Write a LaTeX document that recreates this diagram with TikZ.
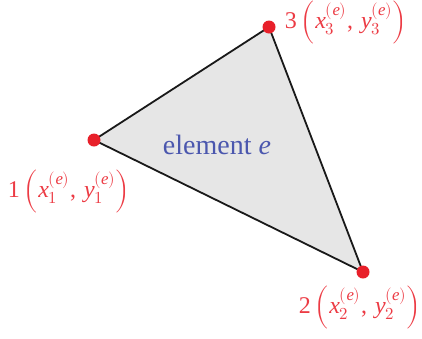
\documentclass[tikz,border=0pt]{standalone}
\usepackage{fontspec}
\setmainfont{Liberation Serif}
\usepackage{unicode-math}
\setmathfont{Latin Modern Math}
\setmathfont{Liberation Serif Italic}[range=it]
\setmathfont{Liberation Serif}[range={"2C,"30-"39}]
\definecolor{ptred}{HTML}{E8202A}
\definecolor{lblred}{HTML}{EC3B44}
\definecolor{elblue}{HTML}{4B57AE}
\definecolor{elgray}{HTML}{E6E6E6}
\tikzset{
  vdot/.style={circle,fill=ptred,inner sep=0pt,minimum size=13pt},
  vlabel/.style={text=lblred,inner sep=0pt,font=\fontsize{24}{27}\selectfont},
  edgeline/.style={line width=1.8pt,black!90}
}
\newcommand{\vcoord}[2]{#1\,$\left(x_{#1}^{(#2)},\,y_{#1}^{(#2)}\right)$}
\begin{document}
\begin{tikzpicture}[x=1pt,y=-1pt]
\useasboundingbox (0,0) rectangle (422,338);
\coordinate (c1) at (94,140);
\coordinate (c2) at (363,272);
\coordinate (c3) at (269,27);
\filldraw[edgeline,fill=elgray,line join=round] (c1) -- (c2) -- (c3) -- cycle;
\node[vdot] (v1) at (c1) {};
\node[vdot] (v2) at (c2) {};
\node[vdot] (v3) at (c3) {};
\node[text=elblue,inner sep=0pt,font=\fontsize{28}{30}\selectfont] (el) at (217,145) {element $e$};
\node[vlabel] (l1) at (69,191) {\vcoord{1}{e}};
\node[vlabel] (l2) at (360,307) {\vcoord{2}{e}};
\node[vlabel] (l3) at (346,22) {\vcoord{3}{e}};
\end{tikzpicture}
\end{document}
